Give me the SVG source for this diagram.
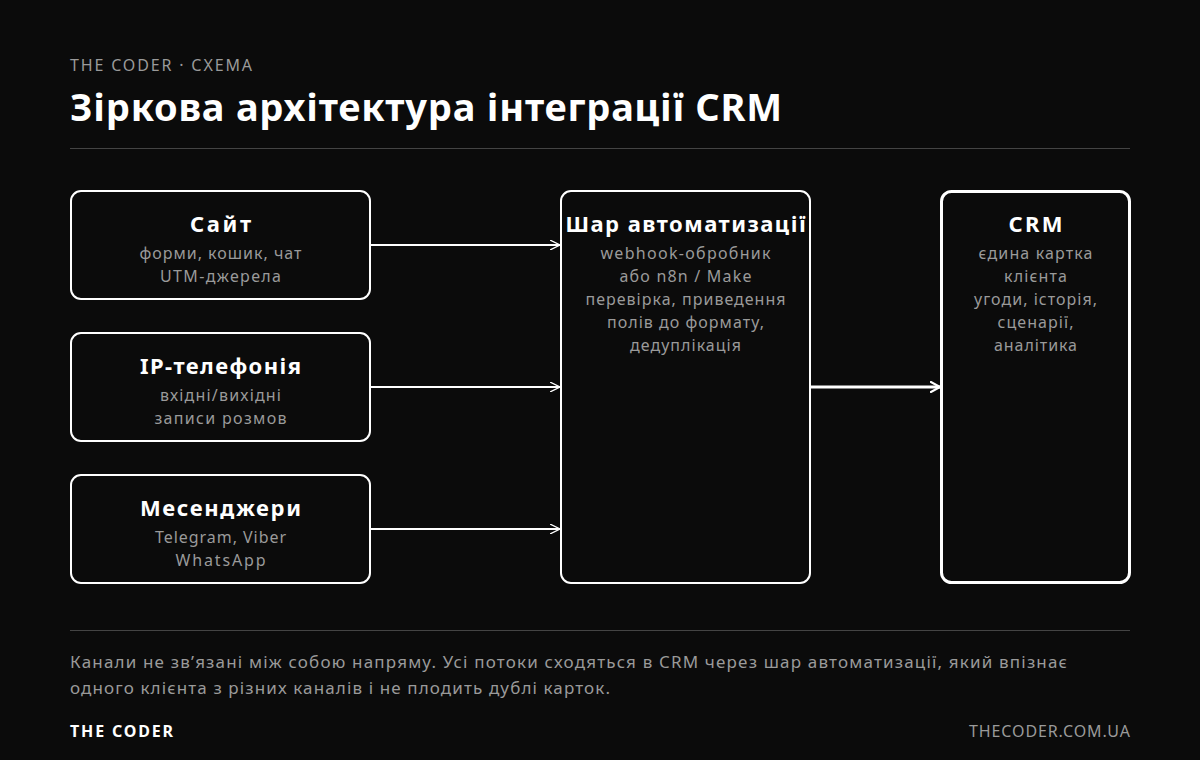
<svg xmlns="http://www.w3.org/2000/svg" width="1200" height="760" viewBox="0 0 1200 760">
<defs>
<style>
text{font-family:"Noto Sans","DejaVu Sans",sans-serif}
.kick{font-size:16px;fill:#9a9a9a}
.title{font-size:38px;font-weight:700;fill:#ffffff}
.rule{stroke:#444444;stroke-width:1}
.box{fill:#0b0b0b;stroke:#ffffff;stroke-width:2}
.crm{fill:#0b0b0b;stroke:#ffffff;stroke-width:3}
.nt{font-size:22px;font-weight:700;fill:#ffffff;text-anchor:middle}
.ns{font-size:16px;fill:#9a9a9a;text-anchor:middle}
.conn{stroke:#ffffff;stroke-width:2;fill:none;marker-end:url(#arr)}
.conn2{stroke:#ffffff;stroke-width:3;fill:none;marker-end:url(#arr2)}
.note{font-size:17px;fill:#9a9a9a}
.brand{font-size:16px;font-weight:700;fill:#ffffff}
.url{font-size:16px;fill:#9a9a9a;text-anchor:end}
</style>
<marker id="arr" viewBox="0 0 10 10" refX="10" refY="5" markerWidth="10" markerHeight="10" markerUnits="userSpaceOnUse" orient="auto">
<path d="M0,0 L10,5 L0,10" fill="none" stroke="#ffffff" stroke-width="1.3"/>
</marker>
<marker id="arr2" viewBox="0 0 10 12" refX="10" refY="6" markerWidth="10" markerHeight="12" markerUnits="userSpaceOnUse" orient="auto">
<path d="M0,0.5 L10,6 L0,11.5" fill="none" stroke="#ffffff" stroke-width="2.2"/>
</marker>
</defs>
<rect x="0" y="0" width="1200" height="760" fill="#0b0b0b"/>
<text class="kick" x="70" y="71" textLength="182" lengthAdjust="spacing">THE CODER · СХЕМА</text>
<text class="title" x="70" y="121" textLength="712" lengthAdjust="spacing">Зіркова архітектура інтеграції CRM</text>
<line class="rule" x1="70" y1="148.5" x2="1130" y2="148.5"/>
<g id="connectors">
<line class="conn" x1="370" y1="245" x2="560" y2="245"/>
<line class="conn" x1="370" y1="387" x2="560" y2="387"/>
<line class="conn" x1="370" y1="529" x2="560" y2="529"/>
<line class="conn2" x1="810" y1="387" x2="940" y2="387"/>
</g>
<g id="node-site">
<rect class="box" x="71" y="191" width="299" height="108" rx="10"/>
<text class="nt" x="220.5" y="232" textLength="61" lengthAdjust="spacing">Сайт</text>
<text class="ns" x="220.5" y="259" textLength="162" lengthAdjust="spacing">форми, кошик, чат</text>
<text class="ns" x="220.5" y="282" textLength="121" lengthAdjust="spacing">UTM-джерела</text>
</g>
<g id="node-ip">
<rect class="box" x="71" y="333" width="299" height="108" rx="10"/>
<text class="nt" x="220.5" y="374" textLength="161" lengthAdjust="spacing">IP-телефонія</text>
<text class="ns" x="220.5" y="401" textLength="121" lengthAdjust="spacing">вхідні/вихідні</text>
<text class="ns" x="220.5" y="424" textLength="132" lengthAdjust="spacing">записи розмов</text>
</g>
<g id="node-msg">
<rect class="box" x="71" y="475" width="299" height="108" rx="10"/>
<text class="nt" x="220.5" y="516" textLength="161" lengthAdjust="spacing">Месенджери</text>
<text class="ns" x="220.5" y="543" textLength="131" lengthAdjust="spacing">Telegram, Viber</text>
<text class="ns" x="220.5" y="566" textLength="90" lengthAdjust="spacing">WhatsApp</text>
</g>
<g id="node-auto">
<rect class="box" x="561" y="191" width="249" height="392" rx="10"/>
<text class="nt" x="685.5" y="232" textLength="240" lengthAdjust="spacing">Шар автоматизації</text>
<text class="ns" x="685.5" y="259" textLength="170" lengthAdjust="spacing">webhook-обробник</text>
<text class="ns" x="685.5" y="282" textLength="132" lengthAdjust="spacing">або n8n / Make</text>
<text class="ns" x="685.5" y="305" textLength="200" lengthAdjust="spacing">перевірка, приведення</text>
<text class="ns" x="685.5" y="328" textLength="157" lengthAdjust="spacing">полів до формату,</text>
<text class="ns" x="685.5" y="351" textLength="111" lengthAdjust="spacing">дедуплікація</text>
</g>
<g id="node-crm">
<rect class="crm" x="941.5" y="191.5" width="188" height="391" rx="10"/>
<text class="nt" x="1035.5" y="232" textLength="54" lengthAdjust="spacing">CRM</text>
<text class="ns" x="1035.5" y="259" textLength="114" lengthAdjust="spacing">єдина картка</text>
<text class="ns" x="1035.5" y="282" textLength="63" lengthAdjust="spacing">клієнта</text>
<text class="ns" x="1035.5" y="305" textLength="123" lengthAdjust="spacing">угоди, історія,</text>
<text class="ns" x="1035.5" y="328" textLength="76" lengthAdjust="spacing">сценарії,</text>
<text class="ns" x="1035.5" y="351" textLength="83" lengthAdjust="spacing">аналітика</text>
</g>
<line class="rule" x1="70" y1="630.5" x2="1130" y2="630.5"/>
<text class="note" x="70" y="668" textLength="997" lengthAdjust="spacing">Канали не зв’язані між собою напряму. Усі потоки сходяться в CRM через шар автоматизації, який впізнає</text>
<text class="note" x="70" y="694" textLength="540" lengthAdjust="spacing">одного клієнта з різних каналів і не плодить дублі карток.</text>
<text class="brand" x="70" y="737" textLength="103" lengthAdjust="spacing">THE CODER</text>
<text class="url" x="1130" y="737" textLength="161" lengthAdjust="spacing">THECODER.COM.UA</text>
</svg>
